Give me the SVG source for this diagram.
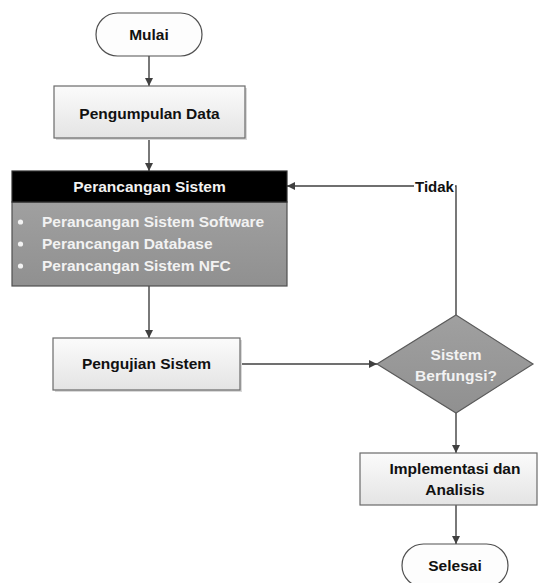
<svg xmlns="http://www.w3.org/2000/svg" width="538" height="583" viewBox="0 0 538 583">
  <defs>
    <linearGradient id="boxFill" x1="0" y1="0" x2="0" y2="1">
      <stop offset="0" stop-color="#fbfbfb"/>
      <stop offset="1" stop-color="#e4e4e4"/>
    </linearGradient>
    <linearGradient id="greyFill" x1="0" y1="0" x2="0" y2="1">
      <stop offset="0" stop-color="#a0a0a0"/>
      <stop offset="1" stop-color="#909090"/>
    </linearGradient>
    <marker id="arrow" viewBox="0 0 10 10" refX="10" refY="5" markerWidth="8" markerHeight="8" markerUnits="userSpaceOnUse" orient="auto">
      <path d="M0,0 L10,5 L0,10 Z" fill="#404040"/>
    </marker>
  </defs>
  <style>
    text { font-family: "Liberation Sans", Arial, sans-serif; font-weight: bold; }
    .lbl { font-size: 15.5px; fill: #111; text-anchor: middle; }
    .box { fill: url(#boxFill); stroke: #6a6a6a; stroke-width: 1.2; }
    .term { fill: #fdfdfd; stroke: #505050; stroke-width: 1.2; }
    .shadow { fill: #d9d9d9; }
    .conn { fill: none; stroke: #404040; stroke-width: 1.4; }
    .light { fill: #f2f2f2; font-size: 15.5px; }
  </style>

  <rect width="538" height="583" fill="#ffffff"/>

  <!-- connectors -->
  <g id="connectors">
    <path class="conn" d="M149,56 V86" marker-end="url(#arrow)"/>
    <path class="conn" d="M149,138 V171" marker-end="url(#arrow)"/>
    <path class="conn" d="M149,286 V338" marker-end="url(#arrow)"/>
    <path class="conn" d="M240,364 H377" marker-end="url(#arrow)"/>
    <path class="conn" d="M456,315 V186 H287" marker-end="url(#arrow)"/>
    <path class="conn" d="M456,413 V453" marker-end="url(#arrow)"/>
    <path class="conn" d="M456,505 V544" marker-end="url(#arrow)"/>
    <rect x="414" y="177" width="41" height="20" fill="#ffffff"/>
    <text x="415" y="192" font-size="15" fill="#111">Tidak</text>
  </g>

  <!-- start -->
  <g id="mulai">
    <rect class="term" x="96" y="13" width="106" height="43" rx="21.5"/>
    <text class="lbl" x="149" y="40">Mulai</text>
  </g>

  <!-- data collection -->
  <g id="pengumpulan-data">
    <rect class="shadow" x="56" y="88" width="191" height="52"/>
    <rect class="box" x="54" y="86" width="191" height="52"/>
    <text class="lbl" x="149.5" y="119">Pengumpulan Data</text>
  </g>

  <!-- system design -->
  <g id="perancangan-sistem">
    <rect x="12" y="202" width="275" height="84" fill="url(#greyFill)" stroke="#505050" stroke-width="1.2"/>
    <rect x="12" y="171" width="275" height="31" fill="#000000" stroke="#303030" stroke-width="1.2"/>
    <text class="light" x="149.5" y="192" text-anchor="middle">Perancangan Sistem</text>
    <circle cx="20.5" cy="222" r="2.6" fill="#f2f2f2"/>
    <circle cx="20.5" cy="244" r="2.6" fill="#f2f2f2"/>
    <circle cx="20.5" cy="266" r="2.6" fill="#f2f2f2"/>
    <text class="light" x="42" y="227">Perancangan Sistem Software</text>
    <text class="light" x="42" y="249">Perancangan Database</text>
    <text class="light" x="42" y="271">Perancangan Sistem NFC</text>
  </g>

  <!-- testing -->
  <g id="pengujian-sistem">
    <rect class="shadow" x="55" y="340" width="187" height="52"/>
    <rect class="box" x="53" y="338" width="187" height="52"/>
    <text class="lbl" x="146.5" y="369">Pengujian Sistem</text>
  </g>

  <!-- decision -->
  <g id="sistem-berfungsi">
    <polygon points="456,315 533,364 456,413 377,364" fill="url(#greyFill)" stroke="#5a5a5a" stroke-width="1.2"/>
    <text class="light" x="456" y="360" text-anchor="middle">Sistem</text>
    <text class="light" x="456" y="381" text-anchor="middle">Berfungsi?</text>
  </g>

  <!-- implementation -->
  <g id="implementasi">
    <rect class="box" x="360" y="453" width="177" height="52"/>
    <text class="lbl" x="455" y="474">Implementasi dan</text>
    <text class="lbl" x="455" y="495">Analisis</text>
  </g>

  <!-- end -->
  <g id="selesai">
    <rect class="term" x="402" y="544" width="106" height="43" rx="21.5"/>
    <text class="lbl" x="455" y="571">Selesai</text>
  </g>
</svg>
